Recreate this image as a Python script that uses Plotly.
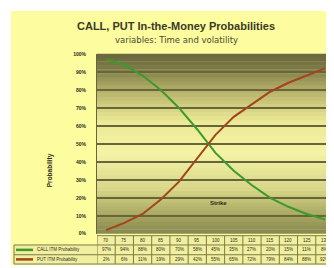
import plotly.graph_objects as go

strikes = ["70", "75", "80", "85", "90", "95", "100", "105", "110", "115", "120", "125", "130"]
call_prob = [97, 94, 88, 80, 70, 58, 45, 35, 27, 20, 15, 11, 8]
put_prob = [2, 6, 11, 19, 29, 42, 55, 65, 72, 79, 84, 88, 92]
y_ticks = list(range(0, 101, 10))

# the page body adds an 8px offset; screen coords are mapped accordingly
W, H = 326, 260
ML, MT = 3, 0
PW, PH = W - ML, H - MT

def px_x(sx):
    return (sx - 8 - ML) / PW

def px_y(sy):
    return (H - (sy - 8)) / PH

BG = "#fdfc9e"
GREEN = "#3c9a2c"
RED = "#a3441c"
GRID = "#66663a"
TBL_LINE = "#7d7c45"
TBL_FILL = "#f1efa0"
FONT = "Arial"

fig = go.Figure()

fig.add_trace(go.Scatter(x=strikes, y=call_prob, mode="lines", name="CALL ITM Probability",
                         line=dict(color=GREEN, width=2), showlegend=False))
fig.add_trace(go.Scatter(x=strikes, y=put_prob, mode="lines", name="PUT ITM Probability",
                         line=dict(color=RED, width=2), showlegend=False))

# gradient plot background
stops = [(0.0, (135, 136, 80)), (0.08, (160, 160, 92)), (0.25, (216, 214, 136)),
         (0.45, (245, 243, 166)), (0.62, (236, 234, 150)), (0.8, (180, 176, 104)),
         (0.92, (124, 122, 72)), (1.0, (104, 102, 60))]

def col_at(t):
    for (a, ca), (b, cb) in zip(stops[:-1], stops[1:]):
        if a <= t <= b:
            f = (t - a) / (b - a)
            return "rgb(%d,%d,%d)" % tuple(round(ca[i] + f * (cb[i] - ca[i])) for i in range(3))
    return "rgb(%d,%d,%d)" % stops[-1][1]

shapes = [dict(type="rect", xref="paper", yref="paper", x0=0, x1=1, y0=0, y1=1,
               fillcolor=BG, line=dict(width=0), layer="below")]
n = 46
for i in range(n):
    t0, t1 = i / n, (i + 1) / n
    shapes.append(dict(type="rect", xref="x domain", yref="y domain", x0=0, x1=1,
                       y0=t0, y1=t1 + 0.002, fillcolor=col_at((t0 + t1) / 2),
                       line=dict(width=0), layer="below"))

# data table below the plot
ncat = len(strikes)
row_edges = [238, 247.5, 257.5, 267]
row_mid = [(a + b) / 2 for a, b in zip(row_edges[:-1], row_edges[1:])]
shapes.append(dict(type="rect", xref="x", yref="paper", x0=-0.5, x1=ncat - 0.5,
                   y0=px_y(row_edges[3]), y1=px_y(row_edges[0]), fillcolor=TBL_FILL,
                   line=dict(width=0), layer="below"))
shapes.append(dict(type="rect", xref="paper", yref="paper", x0=px_x(14), x1=px_x(97),
                   y0=px_y(row_edges[3]), y1=px_y(row_edges[1]), fillcolor=TBL_FILL,
                   line=dict(width=0), layer="below"))
shapes.append(dict(type="line", xref="x", yref="paper", x0=-0.5, x1=ncat - 0.5,
                   y0=px_y(row_edges[0]), y1=px_y(row_edges[0]), line=dict(color=TBL_LINE, width=1)))
for r in row_edges[1:]:
    shapes.append(dict(type="line", xref="paper", yref="paper", x0=px_x(14), x1=1,
                       y0=px_y(r), y1=px_y(r), line=dict(color=TBL_LINE, width=1)))
shapes.append(dict(type="line", xref="paper", yref="paper", x0=px_x(14), x1=px_x(14),
                   y0=px_y(row_edges[3]), y1=px_y(row_edges[1]), line=dict(color=TBL_LINE, width=1)))
for k in range(ncat + 1):
    shapes.append(dict(type="line", xref="x", yref="paper", x0=k - 0.5, x1=k - 0.5,
                       y0=px_y(row_edges[3]), y1=px_y(row_edges[0]), line=dict(color=TBL_LINE, width=1)))
for color, rm in ((GREEN, row_mid[1]), (RED, row_mid[2])):
    shapes.append(dict(type="line", xref="paper", yref="paper", x0=px_x(16), x1=px_x(33),
                       y0=px_y(rm), y1=px_y(rm), line=dict(color=color, width=2.5)))

tfont = dict(size=4.5, color="#2e2e1c", family=FONT)

def ann(text, x, y, font, xref="paper", xanchor="center", **kw):
    return dict(text=text, xref=xref, yref="paper", x=x, y=y, xanchor=xanchor,
                yanchor="middle", showarrow=False, font=font, **kw)

annotations = [
    ann("<b>CALL, PUT In-the-Money Probabilities</b>", px_x(176), px_y(23.5),
        dict(size=11, color="#3a3a25", family=FONT)),
    ann("variables: Time and volatility", px_x(176), px_y(38),
        dict(size=8.5, color="#4a4a35", family="DejaVu Sans")),
    ann("<b>Probability</b>", px_x(50), px_y(171),
        dict(size=6.5, color="#2a2a1a", family=FONT), textangle=-90),
    ann("<b>Strike</b>", px_x(218), px_y(205), dict(size=6, color="#2a2a1a", family=FONT)),
    ann("CALL ITM Probability", px_x(35), px_y(row_mid[1]), tfont, xanchor="left"),
    ann("PUT ITM Probability", px_x(35), px_y(row_mid[2]), tfont, xanchor="left"),
]
for i, (s, c, p) in enumerate(zip(strikes, call_prob, put_prob)):
    for txt, rm in ((s, row_mid[0]), (f"{c}%", row_mid[1]), (f"{p}%", row_mid[2])):
        annotations.append(ann(txt, i, px_y(rm), tfont, xref="x"))

fig.update_layout(
    width=W, height=H,
    margin=dict(l=ML, r=0, t=MT, b=0, pad=0),
    paper_bgcolor="white", plot_bgcolor="rgba(0,0,0,0)",
    shapes=shapes, annotations=annotations, showlegend=False,
    xaxis=dict(domain=[px_x(97), 1], type="category", range=[-0.5, ncat - 0.5],
               showticklabels=False, showgrid=False, zeroline=False, ticks=""),
    yaxis=dict(domain=[px_y(236), px_y(52)], range=[0, 100], tickvals=y_ticks,
               ticktext=[f"<b>{v}%</b>" for v in y_ticks], showgrid=True, gridcolor=GRID, gridwidth=1.5,
               zeroline=False, showline=True, linecolor=GRID, linewidth=1, ticks="",
               tickfont=dict(size=5, color="#2a2a1a", family=FONT), ticklabelstandoff=9),
)

fig.write_html("out.html")
